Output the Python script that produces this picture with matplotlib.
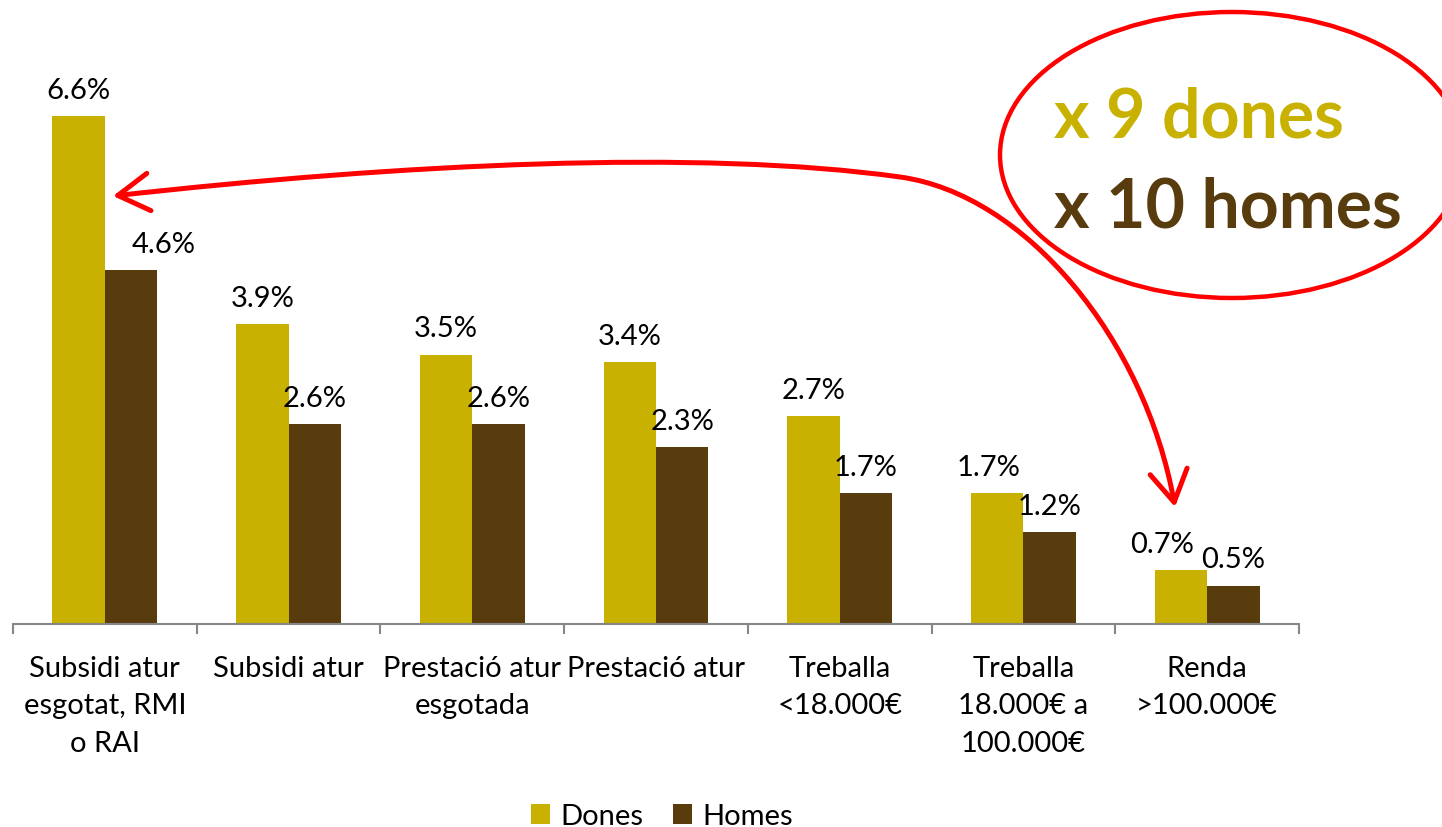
import numpy as np
import matplotlib.pyplot as plt
from matplotlib.patches import Ellipse, FancyArrowPatch
from matplotlib.path import Path

plt.rcParams['font.family'] = ['Lato', 'DejaVu Sans']

# ---- data ----
categories = [
    "Subsidi atur\nesgotat, RMI\no RAI",
    "Subsidi atur",
    "Prestació atur\nesgotada",
    "Prestació atur",
    "Treballa\n<18.000€",
    "Treballa\n18.000€ a\n100.000€",
    "Renda\n>100.000€",
]
dones = [6.6, 3.9, 3.5, 3.4, 2.7, 1.7, 0.7]
homes = [4.6, 2.6, 2.6, 2.3, 1.7, 1.2, 0.5]

# a few value labels were nudged sideways in the original (pixels)
dones_nudge = [0, 0, 0, 0, 0, -9, -19]
homes_nudge = [33, 0, 0, 0, 0, 0, 0]

DONES = "#C8B100"
HOMES = "#583C0E"
GREY = "#868686"
FS = 21

W, H = 1442, 828
fig = plt.figure(figsize=(W / 100, H / 100), dpi=100)
ax = fig.add_axes([13 / W, 203 / H, 1286 / W, 539 / H])

x = np.arange(len(categories))
bw = 0.285
b1 = ax.bar(x - bw / 2, dones, bw, color=DONES, label="Dones")
b2 = ax.bar(x + bw / 2, homes, bw, color=HOMES, label="Homes")

for bars, vals, nudges in [(b1, dones, dones_nudge), (b2, homes, homes_nudge)]:
    for rect, v, n in zip(bars, vals, nudges):
        ax.annotate(f"{v:.1f}%", (rect.get_x() + rect.get_width() / 2, rect.get_height()),
                    xytext=(n * 0.72, 13), textcoords="offset points",
                    ha="center", va="baseline", fontsize=FS)

ax.set_xlim(-0.5, len(categories) - 0.5)
ax.set_ylim(0, 7)
ax.set_yticks([])
for s in ["left", "top", "right"]:
    ax.spines[s].set_visible(False)
ax.spines["bottom"].set_color(GREY)
ax.spines["bottom"].set_linewidth(1.5)

ax.set_xticks(x)
ax.set_xticklabels(categories, fontsize=FS, linespacing=1.56)
ax.tick_params(axis="x", which="major", length=0, pad=22)
ax.set_xticks(np.arange(-0.5, len(categories), 1), minor=True)
ax.tick_params(axis="x", which="minor", length=7, width=1.5, color=GREY)

fig.legend(handles=[b1, b2], loc="lower center", bbox_to_anchor=(662 / W, -0.017),
           ncol=2, frameon=False, fontsize=FS, handlelength=0.65, handleheight=0.65,
           handletextpad=0.35, columnspacing=1.0, borderaxespad=0)

# ---- annotation overlay in pixel coordinates ----
ov = fig.add_axes([0, 0, 1, 1])
ov.set_xlim(0, W)
ov.set_ylim(H, 0)
ov.axis("off")
ov.patch.set_alpha(0)

ov.add_patch(Ellipse((1232, 156), 464, 286, fill=False, ec="red", lw=3.2))
ov.text(1054, 138, "x 9 dones", fontsize=49, fontweight="bold", color=DONES, va="baseline")
ov.text(1054, 228, "x 10 homes", fontsize=49, fontweight="bold", color=HOMES, va="baseline")

verts = [(113, 197), (400, 165), (700, 150), (900, 178),
         (1025, 195), (1145, 340), (1175, 508)]
codes = [Path.MOVETO] + [Path.CURVE4] * 6
ov.add_patch(FancyArrowPatch(path=Path(verts, codes),
                             arrowstyle="<->,head_length=0.75,head_width=0.45",
                             mutation_scale=30, color="red", lw=3.6))

fig.savefig("out.png", dpi=100)
